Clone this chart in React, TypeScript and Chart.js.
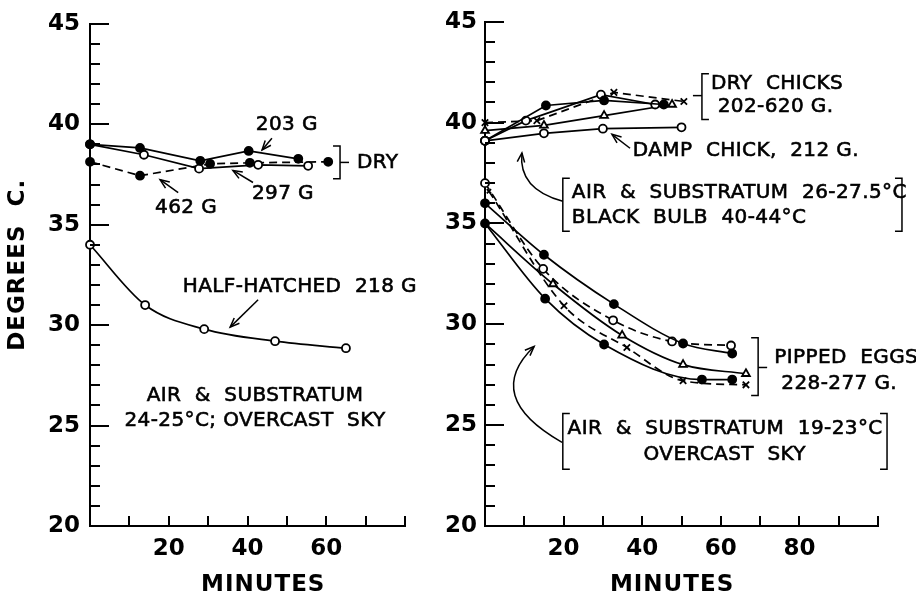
import React, { useEffect, useRef } from 'react';
import { Chart, registerables } from 'chart.js';

Chart.register(...registerables);

const FONT = '"DejaVu Sans", sans-serif';

// ---------- Left panel data (minutes, degrees C) ----------
const halfHatchedX = [0, 14, 29, 47, 65];
const halfHatchedY = [34.0, 31.0, 29.8, 29.2, 28.85];
const dry203X = [0, 12.7, 28, 40.3, 52.9];
const dry203Y = [39.0, 38.82, 38.18, 38.67, 38.28];
const dry297X = [0, 13.7, 27.7, 42.7, 55.4];
const dry297Y = [39.0, 38.48, 37.79, 37.98, 37.93];
const dry462X = [0, 12.7, 30.5, 40.6, 60.5];
const dry462Y = [38.13, 37.44, 38.03, 38.08, 38.13];

// ---------- Right panel data ----------
const dampX = [0, 15, 30, 50];
const dampY = [39.1, 39.47, 39.7, 39.77];
const dryFilledX = [0, 15.5, 30.3, 45.5];
const dryFilledY = [39.1, 40.85, 41.1, 40.9];
const dryOpenX = [0, 10.4, 29.5, 43.3];
const dryOpenY = [39.1, 40.1, 41.39, 40.9];
const dryTriX = [0, 15, 30.3, 47.6];
const dryTriY = [39.6, 39.86, 40.35, 40.9];
const dryCrossX = [0, 13.2, 32.8, 50.6];
const dryCrossY = [40.0, 40.1, 41.5, 41.05];

const pipFilledAX = [0, 15, 32.8, 50.4, 62.9];
const pipFilledAY = [36.0, 33.45, 31.0, 29.05, 28.55];
const pipOpenX = [0, 14.8, 32.6, 47.6, 62.6];
const pipOpenY = [37.0, 32.75, 30.2, 29.15, 28.95];
const pipTriX = [0, 17.3, 34.9, 50.4, 66.4];
const pipTriY = [35.0, 32.0, 29.45, 28.0, 27.55];
const pipCrossX = [1, 20.1, 36.1, 50.4, 66.4];
const pipCrossY = [36.6, 30.92, 28.85, 27.2, 27.0];
const pipFilledBX = [0, 15.3, 30.3, 55.2, 62.9];
const pipFilledBY = [35.0, 31.27, 29.0, 27.26, 27.26];

// ---------- Axis ticks ----------
const yTickLabels = [20, 25, 30, 35, 40, 45];
const leftXLabels = [20, 40, 60];
const rightXLabels = [20, 40, 60, 80];

// ---------- styles ----------
const base = {
  borderColor: '#000',
  borderWidth: 1.7,
  pointRadius: 4,
  pointBorderColor: '#000',
  pointBorderWidth: 1.8,
  pointHoverRadius: 4,
  clip: false as const,
  fill: false,
};
const openC = { ...base, pointStyle: 'circle', pointBackgroundColor: '#fff' };
const filledC = { ...base, pointStyle: 'circle', pointBackgroundColor: '#000' };
const triP = { ...base, pointStyle: 'triangle', pointBackgroundColor: '#fff', pointRadius: 4.5 };
const crossP = { ...base, pointStyle: 'crossRot', pointBackgroundColor: '#fff', pointRadius: 4.5 };
const dash = { borderDash: [8, 5] };
const smooth = { cubicInterpolationMode: 'monotone' as const };

function ser(xs: number[], ys: number[], style: any) {
  return { data: xs.map((x, i) => ({ x, y: ys[i] })), ...style };
}

type Ann =
  | { kind: 'text'; text: string; x: number; y: number; align?: CanvasTextAlign }
  | { kind: 'arrow'; x1: number; y1: number; x2: number; y2: number }
  | { kind: 'curve'; x1: number; y1: number; cx: number; cy: number; x2: number; y2: number }
  | { kind: 'bracket'; x: number; y1: number; y2: number; dir: number; mid?: number };

const leftAnn: Ann[] = [
  { kind: 'text', text: '203 G', x: 50.0, y: 39.96 },
  { kind: 'arrow', x1: 46.2, y1: 39.3, x2: 43.7, y2: 38.72 },
  { kind: 'text', text: '462 G', x: 24.4, y: 35.86 },
  { kind: 'arrow', x1: 22.4, y1: 36.6, x2: 17.8, y2: 37.24 },
  { kind: 'text', text: '297 G', x: 49.0, y: 36.55 },
  { kind: 'arrow', x1: 41.4, y1: 37.1, x2: 36.3, y2: 37.7 },
  { kind: 'bracket', x: 63.5, y1: 38.92, y2: 37.29, dir: -1, mid: 38.1 },
  { kind: 'text', text: 'DRY', x: 67.8, y: 38.1, align: 'left' },
  { kind: 'text', text: 'HALF-HATCHED  218 G', x: 53.3, y: 31.9 },
  { kind: 'arrow', x1: 42.7, y1: 31.26, x2: 35.6, y2: 29.9 },
  { kind: 'text', text: 'AIR  &  SUBSTRATUM', x: 41.9, y: 26.47 },
  { kind: 'text', text: '24-25°C; OVERCAST  SKY', x: 41.9, y: 25.24 },
];

const rightAnn: Ann[] = [
  { kind: 'bracket', x: 55.2, y1: 42.43, y2: 40.16, dir: 1, mid: 41.34 },
  { kind: 'text', text: 'DRY  CHICKS', x: 57.5, y: 41.94, align: 'left' },
  { kind: 'text', text: '202-620 G.', x: 59.2, y: 40.8, align: 'left' },
  { kind: 'text', text: 'DAMP  CHICK,  212 G.', x: 37.6, y: 38.58, align: 'left' },
  { kind: 'arrow', x1: 36.9, y1: 38.73, x2: 32.3, y2: 39.42 },
  { kind: 'bracket', x: 19.8, y1: 37.24, y2: 34.62, dir: 1 },
  { kind: 'bracket', x: 106.1, y1: 37.24, y2: 34.62, dir: -1 },
  { kind: 'text', text: 'AIR  &  SUBSTRATUM  26-27.5°C', x: 22.1, y: 36.5, align: 'left' },
  { kind: 'text', text: 'BLACK  BULB  40-44°C', x: 22.1, y: 35.27, align: 'left' },
  { kind: 'curve', x1: 19.8, y1: 36.1, cx: 8.4, cy: 36.7, x2: 9.4, y2: 38.5 },
  { kind: 'bracket', x: 69.5, y1: 29.34, y2: 26.47, dir: -1, mid: 27.86 },
  { kind: 'text', text: 'PIPPED  EGGS', x: 73.6, y: 28.35, align: 'left' },
  { kind: 'text', text: '228-277 G.', x: 75.4, y: 27.07, align: 'left' },
  { kind: 'bracket', x: 19.8, y1: 25.58, y2: 22.82, dir: 1 },
  { kind: 'bracket', x: 102.3, y1: 25.58, y2: 22.82, dir: -1 },
  { kind: 'text', text: 'AIR  &  SUBSTRATUM  19-23°C', x: 61.1, y: 24.84 },
  { kind: 'text', text: 'OVERCAST  SKY', x: 61.0, y: 23.51 },
  { kind: 'curve', x1: 19.6, y1: 24.15, cx: -0.8, cy: 26.42, x2: 12.5, y2: 28.9 },
];

function arrowHead(ctx: CanvasRenderingContext2D, fx: number, fy: number, tx: number, ty: number) {
  const a = Math.atan2(ty - fy, tx - fx);
  const L = 10;
  const s = 0.38;
  ctx.beginPath();
  ctx.moveTo(tx - L * Math.cos(a - s), ty - L * Math.sin(a - s));
  ctx.lineTo(tx, ty);
  ctx.lineTo(tx - L * Math.cos(a + s), ty - L * Math.sin(a + s));
  ctx.stroke();
}

function makePlugin(anns: Ann[], xTitleAt: number, yTitle: boolean, xTickMax: number) {
  return {
    id: 'decor',
    afterDraw(chart: any) {
      const ctx: CanvasRenderingContext2D = chart.ctx;
      const xs = chart.scales.x;
      const ys = chart.scales.y;
      const px = (v: number) => xs.getPixelForValue(v);
      const py = (v: number) => ys.getPixelForValue(v);
      const area = chart.chartArea;
      ctx.save();
      ctx.strokeStyle = '#000';
      ctx.fillStyle = '#000';
      // inward ticks
      ctx.lineWidth = 2;
      ctx.lineCap = 'butt';
      for (let v = ys.min; v <= ys.max; v += 1) {
        const len = v % 5 === 0 ? 19 : 10;
        const yy = Math.round(py(v));
        ctx.beginPath();
        ctx.moveTo(area.left, yy);
        ctx.lineTo(area.left + len, yy);
        ctx.stroke();
      }
      for (let v = 10; v <= xTickMax; v += 10) {
        const xx = Math.round(px(v));
        ctx.beginPath();
        ctx.moveTo(xx, area.bottom);
        ctx.lineTo(xx, area.bottom - 10);
        ctx.stroke();
      }
      // annotations
      ctx.font = `20px ${FONT}`;
      (ctx as any).letterSpacing = '0.4px';
      ctx.textBaseline = 'middle';
      for (const a of anns) {
        ctx.lineWidth = 1.5;
        if (a.kind === 'text') {
          ctx.textAlign = a.align || 'center';
          ctx.fillText(a.text, px(a.x), py(a.y));
          ctx.lineWidth = 0.6;
          ctx.strokeText(a.text, px(a.x), py(a.y));
        } else if (a.kind === 'arrow') {
          const x1 = px(a.x1), y1 = py(a.y1), x2 = px(a.x2), y2 = py(a.y2);
          ctx.beginPath();
          ctx.moveTo(x1, y1);
          ctx.lineTo(x2, y2);
          ctx.stroke();
          arrowHead(ctx, x1, y1, x2, y2);
        } else if (a.kind === 'curve') {
          const x1 = px(a.x1), y1 = py(a.y1), cx = px(a.cx), cy = py(a.cy), x2 = px(a.x2), y2 = py(a.y2);
          ctx.beginPath();
          ctx.moveTo(x1, y1);
          ctx.quadraticCurveTo(cx, cy, x2, y2);
          ctx.stroke();
          arrowHead(ctx, cx, cy, x2, y2);
        } else if (a.kind === 'bracket') {
          const x = px(a.x), y1 = py(a.y1), y2 = py(a.y2);
          const h = 7 * a.dir;
          ctx.beginPath();
          ctx.moveTo(x + h, y1);
          ctx.lineTo(x, y1);
          ctx.lineTo(x, y2);
          ctx.lineTo(x + h, y2);
          ctx.stroke();
          if (a.mid !== undefined) {
            const ym = py(a.mid);
            ctx.beginPath();
            ctx.moveTo(x, ym);
            ctx.lineTo(x - 9 * a.dir, ym);
            ctx.stroke();
          }
        }
      }
      // axis titles
      (ctx as any).letterSpacing = '1px';
      ctx.font = `bold 23px ${FONT}`;
      ctx.textAlign = 'center';
      ctx.fillText('MINUTES', px(xTitleAt), xs.bottom - 13);
      if (yTitle) {
        ctx.save();
        ctx.translate(18, py(33.0));
        ctx.rotate(-Math.PI / 2);
        ctx.fillText('DEGREES  C.', 0, 0);
        ctx.restore();
      }
      ctx.restore();
    },
  };
}

function makeConfig(datasets: any[], xMax: number, xLabels: number[], yWidth: number, yPad: number, padRight: number, anns: Ann[], xTitleAt: number, yTitle: boolean) {
  const tickFont = { family: FONT, size: 23, weight: 'bold' as const };
  return {
    type: 'line' as const,
    data: { datasets },
    options: {
      animation: false as const,
      responsive: false,
      events: [] as any[],
      layout: { padding: { left: 0, top: 20, right: padRight, bottom: 0 } },
      plugins: { legend: { display: false }, tooltip: { enabled: false }, title: { display: false } },
      scales: {
        x: {
          type: 'linear' as const,
          min: 0,
          max: xMax,
          grid: { display: false, drawTicks: false },
          border: { display: true, color: '#000', width: 2 },
          afterBuildTicks: (scale: any) => {
            scale.ticks = xLabels.map((v) => ({ value: v }));
          },
          ticks: { color: '#000', font: tickFont, padding: 9, autoSkip: false, maxRotation: 0 },
          afterFit: (scale: any) => {
            scale.height = 72;
          },
        },
        y: {
          type: 'linear' as const,
          min: 20,
          max: 45,
          grid: { display: false, drawTicks: false },
          border: { display: true, color: '#000', width: 2 },
          afterBuildTicks: (scale: any) => {
            scale.ticks = yTickLabels.map((v) => ({ value: v }));
          },
          ticks: { color: '#000', font: tickFont, padding: yPad },
          afterFit: (scale: any) => {
            scale.width = yWidth;
          },
        },
      },
    },
    plugins: [makePlugin(anns, xTitleAt, yTitle, xMax)],
  };
}

export default function App() {
  const leftRef = useRef<HTMLCanvasElement>(null);
  const rightRef = useRef<HTMLCanvasElement>(null);

  useEffect(() => {
    const leftSets = [
      ser(dry203X, dry203Y, { ...filledC }),
      ser(dry297X, dry297Y, { ...openC }),
      ser(dry462X, dry462Y, { ...filledC, ...dash }),
      ser(halfHatchedX, halfHatchedY, { ...openC, ...smooth }),
    ];
    const rightSets = [
      ser(dampX, dampY, { ...openC }),
      ser(dryFilledX, dryFilledY, { ...filledC }),
      ser(dryOpenX, dryOpenY, { ...openC }),
      ser(dryTriX, dryTriY, { ...triP }),
      ser(dryCrossX, dryCrossY, { ...crossP, ...dash }),
      ser(pipFilledAX, pipFilledAY, { ...filledC, ...smooth }),
      ser(pipOpenX, pipOpenY, { ...openC, ...dash, ...smooth }),
      ser(pipTriX, pipTriY, { ...triP, ...smooth, pointRadius: [0, 4.5, 4.5, 4.5, 4.5] }),
      ser(pipCrossX, pipCrossY, { ...crossP, ...dash, ...smooth, pointRadius: [3, 4.5, 4.5, 4.5, 4.5] }),
      ser(pipFilledBX, pipFilledBY, { ...filledC, ...smooth }),
    ];
    const left = new Chart(leftRef.current!, makeConfig(leftSets, 80, leftXLabels, 90, 10, 25, leftAnn, 44, true) as any);
    const right = new Chart(rightRef.current!, makeConfig(rightSets, 100, rightXLabels, 55, 8, 38, rightAnn, 47.6, false) as any);
    return () => {
      left.destroy();
      right.destroy();
    };
  }, []);

  return (
    <div style={{ position: 'absolute', left: 0, top: 0, width: 916, height: 598, background: '#fff' }}>
      <canvas ref={leftRef} width={430} height={598} style={{ position: 'absolute', left: 0, top: 0, width: 430, height: 598 }} />
      <canvas ref={rightRef} width={486} height={598} style={{ position: 'absolute', left: 430, top: 0, width: 486, height: 598 }} />
    </div>
  );
}
